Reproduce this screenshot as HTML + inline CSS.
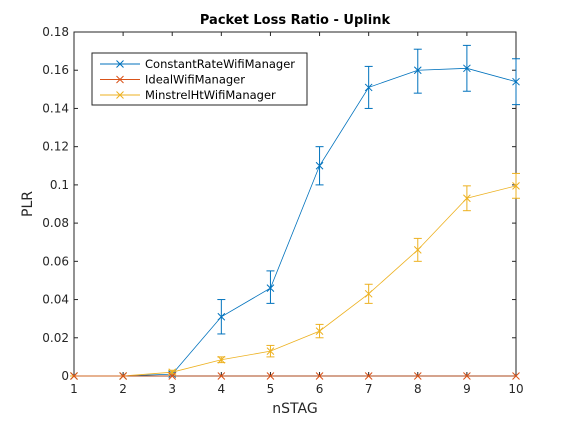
<!DOCTYPE html>
<html><head><meta charset="utf-8"><style>body{margin:0;background:#fff}svg{display:block;font-family:"DejaVu Sans","Liberation Sans",sans-serif}</style></head>
<body>
<svg id="c" width="570" height="422" viewBox="0 0 570 422"></svg>
<script>
const categories=[1,2,3,4,5,6,7,8,9,10];
const constantVals=[0,0,0.001,0.031,0.046,0.110,0.151,0.160,0.161,0.154];
const constantLo=[0,0,0,0.022,0.038,0.100,0.140,0.148,0.149,0.142];
const constantHi=[0,0,0.002,0.040,0.055,0.120,0.162,0.171,0.173,0.166];
const idealVals=[0,0,0,0,0,0,0,0,0,0];
const minstrelVals=[0,0,0.002,0.0085,0.013,0.0235,0.043,0.066,0.093,0.0995];
const minstrelLo=[0,0,0.001,0.007,0.010,0.020,0.038,0.060,0.0865,0.093];
const minstrelHi=[0,0,0.003,0.010,0.016,0.027,0.048,0.072,0.0995,0.106];
const yTicks=[0,0.02,0.04,0.06,0.08,0.1,0.12,0.14,0.16,0.18];
const yTickLabels=["0","0.02","0.04","0.06","0.08","0.1","0.12","0.14","0.16","0.18"];
const xTicks=[1,2,3,4,5,6,7,8,9,10];
const L=74,R=516,T=32,B=376;
const X=v=>L+(v-1)/9*(R-L);
const Y=v=>B-v/0.18*(B-T);
const svg=document.getElementById('c');
const NS='http://www.w3.org/2000/svg';
function mk(tag,attrs,parent){const e=document.createElementNS(NS,tag);for(const k in attrs)e.setAttribute(k,attrs[k]);(parent||svg).appendChild(e);return e;}
let ax=mk('rect',{x:L,y:T,width:R-L,height:B-T,fill:'#fff',stroke:'#262626','stroke-width':1});


yTicks.forEach((v,i)=>{
  mk('line',{x1:L,x2:L+4,y1:Y(v),y2:Y(v),stroke:'#262626'});
  mk('line',{x1:R,x2:R-4,y1:Y(v),y2:Y(v),stroke:'#262626'});
  let t=mk('text',{x:L-5,y:Y(v)+4,'text-anchor':'end','font-size':12,fill:'#262626'});
  t.textContent=yTickLabels[i];
  
  
});
xTicks.forEach(v=>{
  mk('line',{x1:X(v),x2:X(v),y1:B,y2:B-4,stroke:'#262626'});
  mk('line',{x1:X(v),x2:X(v),y1:T,y2:T+4,stroke:'#262626'});
  let t=mk('text',{x:X(v),y:B+17,'text-anchor':'middle','font-size':12,fill:'#262626'});
  t.textContent=v;
  
  
});
function series(name,vals,lo,hi,color){
  const g=mk('g',{});
  
  
  mk('polyline',{points:vals.map((v,i)=>X(categories[i])+','+Y(v)).join(' '),fill:'none',stroke:color,'stroke-width':0.8},g);
  vals.forEach((v,i)=>{
    const x=X(categories[i]),y=Y(v);
    if(lo){
      mk('line',{x1:x,x2:x,y1:Y(lo[i]),y2:Y(hi[i]),stroke:color,'stroke-width':1},g);
      mk('line',{x1:x-4,x2:x+4,y1:Y(lo[i]),y2:Y(lo[i]),stroke:color},g);
      mk('line',{x1:x-4,x2:x+4,y1:Y(hi[i]),y2:Y(hi[i]),stroke:color},g);
    }
    mk('path',{d:`M${x-3.5},${y-3.5}L${x+3.5},${y+3.5}M${x-3.5},${y+3.5}L${x+3.5},${y-3.5}`,stroke:color,'stroke-width':1},g);
  });
}
series('series-constant-rate',constantVals,constantLo,constantHi,'#0072BD');
series('series-minstrel-ht',minstrelVals,minstrelLo,minstrelHi,'#EDB120');
series('series-ideal',idealVals,null,null,'#D95319');
let title=mk('text',{x:(L+R)/2,y:24,'text-anchor':'middle','font-size':13,'font-weight':'bold',fill:'#000'});
title.textContent='Packet Loss Ratio - Uplink';


let xl=mk('text',{x:(L+R)/2,y:413,'text-anchor':'middle','font-size':14,fill:'#262626'});
xl.textContent='nSTAG';


let yl=mk('text',{x:0,y:0,'text-anchor':'middle','font-size':14,fill:'#262626',transform:`translate(32,${(T+B)/2}) rotate(-90)`});
yl.textContent='PLR';


const lg=mk('g',{});


mk('rect',{x:92,y:53,width:215,height:52,fill:'#fff',stroke:'#262626'},lg);
const legendNames=['ConstantRateWifiManager','IdealWifiManager','MinstrelHtWifiManager'];
const legendColors=['#0072BD','#D95319','#EDB120'];
legendNames.forEach((n,i)=>{
  const y=64+i*15.5;
  const e=mk('g',{},lg);
  
  
  mk('line',{x1:100,x2:140,y1:y,y2:y,stroke:legendColors[i]},e);
  mk('path',{d:`M116.5,${y-3.5}L123.5,${y+3.5}M116.5,${y+3.5}L123.5,${y-3.5}`,stroke:legendColors[i]},e);
  const t=mk('text',{x:145,y:y+4,'font-size':11.5,fill:'#000'},e);
  t.textContent=n;
});
</script>
</body></html>
